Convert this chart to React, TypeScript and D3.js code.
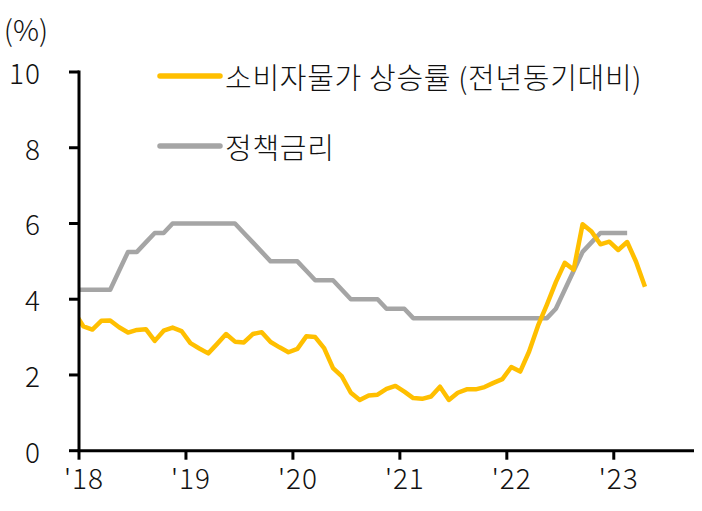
import React from 'react'
import * as d3 from 'd3'

// monthly series, first value = Dec 2017
const cpi = [
    3.65,
    3.28, 3.2, 3.43, 3.44, 3.26, 3.12, 3.19, 3.21, 2.9, 3.17, 3.25, 3.16,
    2.84, 2.7, 2.57, 2.82, 3.08, 2.88, 2.86, 3.08, 3.13, 2.87, 2.73, 2.6,
    2.69, 3.02, 3.0, 2.71, 2.18, 1.96, 1.53, 1.34, 1.46, 1.48, 1.63, 1.71,
    1.56, 1.39, 1.37, 1.43, 1.69, 1.34, 1.53, 1.62, 1.62, 1.68, 1.79, 1.89,
    2.21, 2.09, 2.62, 3.3, 3.86, 4.45, 4.96, 4.78, 5.98, 5.79, 5.45, 5.52,
    5.3, 5.51, 4.99, 4.33,
]
const policyRate = [
    4.25,
    4.25, 4.25, 4.25, 4.25, 4.75, 5.25, 5.25, 5.5, 5.75, 5.75, 6.0, 6.0,
    6.0, 6.0, 6.0, 6.0, 6.0, 6.0, 5.75, 5.5, 5.25, 5.0, 5.0, 5.0,
    5.0, 4.75, 4.5, 4.5, 4.5, 4.25, 4.0, 4.0, 4.0, 4.0, 3.75, 3.75,
    3.75, 3.5, 3.5, 3.5, 3.5, 3.5, 3.5, 3.5, 3.5, 3.5, 3.5, 3.5,
    3.5, 3.5, 3.5, 3.5, 3.5, 3.75, 4.25, 4.75, 5.25, 5.5, 5.75, 5.75,
    5.75, 5.75,
]
const firstMonth = -1 // months from Jan 2018
const yearTicks = [0, 12, 24, 36, 48, 60]
const yearLabels = ["'18", "'19", "'20", "'21", "'22", "'23"]
const yTicks = [0, 2, 4, 6, 8, 10]
const legendItems = [
    { name: '소비자물가 상승률 (전년동기대비)', color: '#FFBF00' },
    { name: '정책금리', color: '#A5A5A5' },
]

const W = 702
const H = 511
const font = '"Noto Sans CJK KR", "Noto Sans", sans-serif'

export default function App() {
    const x = d3.scaleLinear().domain([0, 69]).range([79, 694])
    const y = d3.scaleLinear().domain([0, 10]).range([450.7, 72])

    const line = d3
        .line<number>()
        .x((_, i) => x(firstMonth + i + 0.5))
        .y((d) => y(d))

    return (
        <svg width={W} height={H} style={{ position: 'absolute', left: 0, top: 0, background: '#fff' }}>
            <defs>
                <clipPath id="plot">
                    <rect x={79} y={0} width={W - 79} height={H} />
                </clipPath>
            </defs>

            <g fontFamily={font} fontWeight={300} fill="#111">
                <text x={26} y={28} fontSize={29} textAnchor="middle" dominantBaseline="central">
                    (%)
                </text>

                {yTicks.map((t) => (
                    <text key={t} x={41} y={y(t)} fontSize={28} letterSpacing={1} textAnchor="end" dominantBaseline="central">
                        {t}
                    </text>
                ))}

                {yearTicks.map((t, i) => (
                    <text key={t} x={x(t) + 5} y={477} fontSize={28} letterSpacing={1} textAnchor="middle" dominantBaseline="central">
                        {yearLabels[i]}
                    </text>
                ))}
            </g>

            {/* series */}
            <g clipPath="url(#plot)" fill="none" strokeWidth={4.5} strokeLinejoin="round">
                <path d={line(policyRate)!} stroke={legendItems[1].color} />
                <path d={line(cpi)!} stroke={legendItems[0].color} />
            </g>

            {/* y axis */}
            <line x1={79} x2={79} y1={y(10) - 1.5} y2={y(0)} stroke="#000" strokeWidth={3} />
            {yTicks.map((t) => (
                <line key={t} x1={69} x2={79} y1={y(t)} y2={y(t)} stroke="#000" strokeWidth={3} />
            ))}

            {/* x axis */}
            <line x1={77.5} x2={x(69)} y1={y(0)} y2={y(0)} stroke="#000" strokeWidth={3} />
            {yearTicks.map((t) => (
                <line key={t} x1={x(t)} x2={x(t)} y1={y(0)} y2={y(0) + 9} stroke="#000" strokeWidth={3} />
            ))}

            {/* legend */}
            {legendItems.map((item, i) => (
                <g key={item.name} transform={`translate(160, ${76 + i * 70})`}>
                    <line x1={0} x2={60} y1={0} y2={0} stroke={item.color} strokeWidth={5.5} strokeLinecap="round" />
                    <text x={65} y={0} fontFamily={font} fontWeight={300} fontSize={29} letterSpacing={0.7} fill="#111" dominantBaseline="central">
                        {item.name}
                    </text>
                </g>
            ))}
        </svg>
    )
}
